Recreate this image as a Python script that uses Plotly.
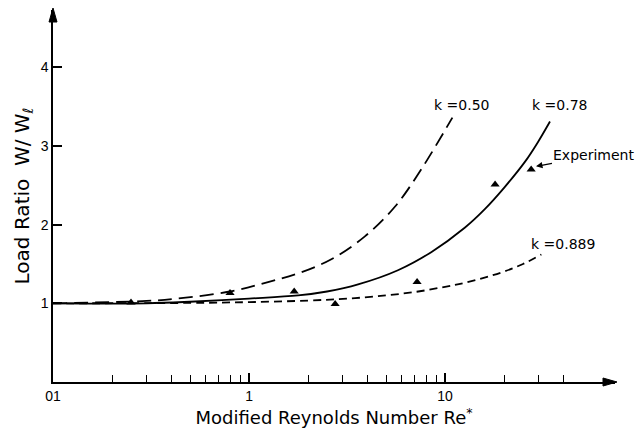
import math
import plotly.graph_objects as go

# ---- data ----
re_k050 = [0.1, 0.3, 0.43, 0.8, 1.25, 1.78, 2.63, 3.9, 5.56, 7.55, 10.9]
w_k050 = [1.0, 1.03, 1.06, 1.15, 1.27, 1.38, 1.56, 1.85, 2.23, 2.70, 3.36]

re_k078 = [0.1, 0.3, 0.5, 1.0, 1.78, 2.5, 3.6, 5.75, 8.5, 12.6, 16, 20.2, 25.6, 29.8, 34.3]
w_k078 = [1.0, 1.0, 1.02, 1.06, 1.10, 1.15, 1.24, 1.42, 1.65, 1.96, 2.20, 2.48, 2.80, 3.05, 3.31]

re_k0889 = [0.1, 0.5, 1.0, 2.0, 3.2, 5.0, 7.3, 10.0, 12.6, 19.3, 25.0, 31.0]
w_k0889 = [1.0, 1.005, 1.015, 1.035, 1.06, 1.10, 1.15, 1.21, 1.26, 1.39, 1.50, 1.62]

re_exp = [0.25, 0.80, 1.70, 2.75, 7.2, 18.0, 27.5]
w_exp = [1.01, 1.13, 1.15, 0.99, 1.27, 2.51, 2.70]

x_tickvals = [0.1, 1, 10]
x_ticktext = ["01", "1", "10"]
x_minor = [0.2, 0.3, 0.4, 0.5, 0.6, 0.7, 0.8, 0.9, 2, 3, 4, 5, 6, 7, 8, 9, 20, 30, 40]
y_tickvals = [1, 2, 3, 4]

FONT = "Liberation Sans, Arial, sans-serif"
TFONT = "DejaVu Sans, sans-serif"

fig = go.Figure()
fig.add_trace(go.Scatter(x=re_k050, y=w_k050, mode="lines", line_shape="spline",
                         line=dict(color="black", width=1.8, dash="14px,7px"), name="k=0.50"))
fig.add_trace(go.Scatter(x=re_k078, y=w_k078, mode="lines", line_shape="spline",
                         line=dict(color="black", width=1.8), name="k=0.78"))
fig.add_trace(go.Scatter(x=re_k0889, y=w_k0889, mode="lines", line_shape="spline",
                         line=dict(color="black", width=1.8, dash="8px,5px"), name="k=0.889"))
fig.add_trace(go.Scatter(x=re_exp, y=w_exp, mode="markers",
                         marker=dict(symbol="triangle-up", size=8, color="black"), name="Experiment"))

lab_font = dict(size=14, family=TFONT, color="black")
annotations = [
    dict(x=1.082, y=3.52, xref="x", yref="y", text="k =0.50", showarrow=False, font=lab_font),
    dict(x=1.582, y=3.52, xref="x", yref="y", text="k =0.78", showarrow=False, font=lab_font),
    dict(x=1.602, y=1.75, xref="x", yref="y", text="k =0.889", showarrow=False, font=lab_font),
    dict(x=math.log10(29.1), y=2.74, xref="x", yref="y", text="Experiment", showarrow=True,
         ax=58, ay=-11, arrowhead=2, arrowsize=1, arrowwidth=1.3, arrowcolor="black",
         standoff=0, font=lab_font),
]

shapes = [
    # axis arrowheads (pixel-sized paths anchored at axis ends)
    dict(type="path", xref="paper", yref="paper", xsizemode="pixel", ysizemode="pixel",
         xanchor=0, yanchor=1, path="M -4,-12 L 0,2 L 4,-12 Z",
         fillcolor="black", line=dict(color="black", width=1)),
    dict(type="path", xref="paper", yref="paper", xsizemode="pixel", ysizemode="pixel",
         xanchor=1, yanchor=0, path="M -12,-4 L 2,0 L -12,4 Z",
         fillcolor="black", line=dict(color="black", width=1)),
]

fig.update_layout(
    width=635, height=434,
    margin=dict(l=53, r=20, t=10, b=52),
    paper_bgcolor="white", plot_bgcolor="white",
    showlegend=False,
    font=dict(family=FONT, size=14, color="black"),
    annotations=annotations,
    shapes=shapes,
    xaxis=dict(
        type="log", range=[-1, 1.867],
        tickmode="array", tickvals=x_tickvals, ticktext=x_ticktext,
        ticks="inside", ticklen=9, tickwidth=1.5, tickcolor="black",
        minor=dict(tickmode="array", tickvals=x_minor, ticks="inside", ticklen=7,
                   tickwidth=1.2, tickcolor="black", showgrid=False),
        showline=True, linecolor="black", linewidth=1.5,
        showgrid=False, zeroline=False,
        tickfont=dict(size=14),
        title=dict(text="Modified Reynolds Number Re<sup>*</sup>",
                   font=dict(size=18, family=TFONT), standoff=9),
    ),
    yaxis=dict(
        range=[0, 4.727],
        tickmode="array", tickvals=y_tickvals,
        ticks="inside", ticklen=9, tickwidth=1.5, tickcolor="black",
        showline=True, linecolor="black", linewidth=1.5,
        showgrid=False, zeroline=False,
        tickfont=dict(size=14),
        title=dict(text="Load Ratio  W/ W<sub>ℓ</sub>",
                   font=dict(size=20, family=TFONT), standoff=6),
    ),
)

fig.write_html("out.html")
